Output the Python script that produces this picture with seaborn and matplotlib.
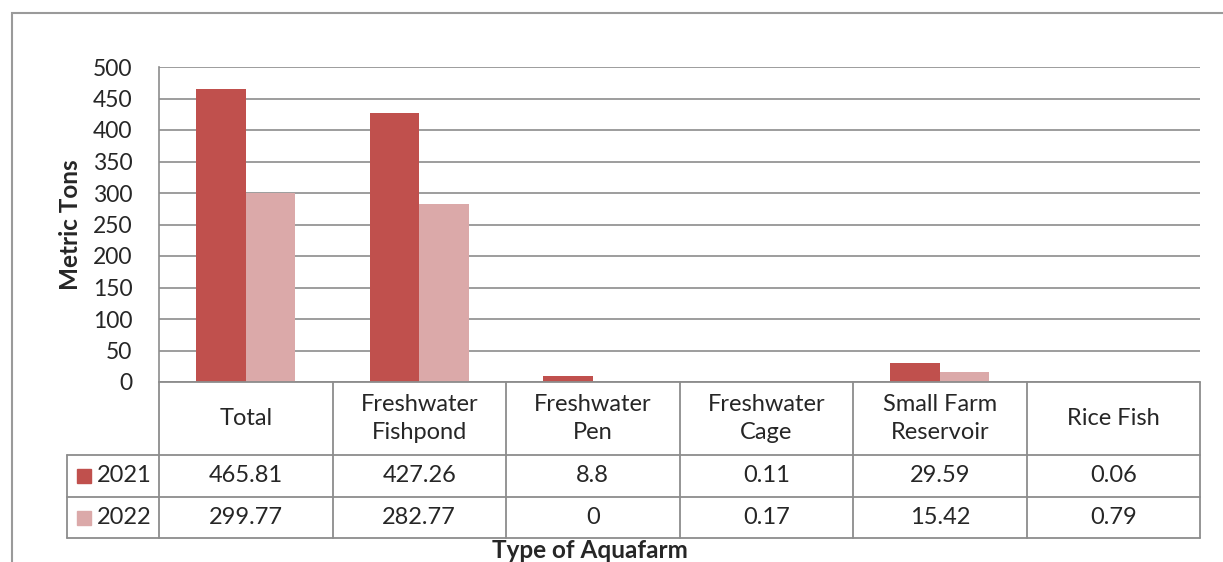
import matplotlib
matplotlib.use('Agg')
import pandas as pd
import seaborn as sns
import matplotlib.pyplot as plt
from matplotlib.lines import Line2D
from matplotlib.patches import Rectangle

# Данные
categories = ['Total', 'Freshwater\nFishpond', 'Freshwater\nPen', 'Freshwater\nCage',
              'Small Farm\nReservoir', 'Rice Fish']
years = ['2021', '2022']
values_2021 = [465.81, 427.26, 8.8, 0.11, 29.59, 0.06]
values_2022 = [299.77, 282.77, 0, 0.17, 15.42, 0.79]
labels_2021 = ['465.81', '427.26', '8.8', '0.11', '29.59', '0.06']
labels_2022 = ['299.77', '282.77', '0', '0.17', '15.42', '0.79']
colors = ['#C0504D', '#DBA9A9']

df = pd.DataFrame({
    'category': categories * 2,
    'year': [years[0]] * 6 + [years[1]] * 6,
    'value': values_2021 + values_2022,
})

sns.set_style('white')
plt.rcParams['font.family'] = ['Lato', 'DejaVu Sans']

W, H = 1223, 562
fig = plt.figure(figsize=(W / 100, H / 100), dpi=100)

def fx(px):
    return px / W

def fy(py):
    return 1 - py / H

left, right, top, bottom = 159, 1200, 67, 382
ax = fig.add_axes([fx(left), fy(bottom), fx(right - left), (bottom - top) / H])

sns.barplot(data=df, x='category', y='value', hue='year', palette=colors,
            width=0.57, saturation=1, linewidth=0, ax=ax, legend=False)

ax.set_ylim(0, 500)
ax.set_xlim(-0.5, len(categories) - 0.5)
ax.set_yticks(range(0, 501, 50))
ax.tick_params(axis='y', labelsize=16.5, length=4, color='#868686', pad=15)
ax.set_xticks([])
ax.set_xlabel('')
ax.set_ylabel('')
ax.grid(axis='y', color='#8c8c8c', linewidth=1.2)
ax.set_axisbelow(True)
for s in ['top', 'right', 'bottom']:
    ax.spines[s].set_visible(False)
ax.spines['left'].set_color('#8c8c8c')
ax.spines['left'].set_linewidth(1.2)

# Внешняя рамка
fig.patches.append(Rectangle((fx(12), fy(600)), fx(1300), (600 - 13) / H,
                             transform=fig.transFigure, fill=False,
                             edgecolor='#9a9a9a', linewidth=1.5))

# Таблица данных
lc = '#8c8c8c'
col_w = (right - left) / len(categories)
y_head, y_r1, y_r2, y_end = 382, 455, 497, 538
lab_left = 67

def hline(x0, x1, y):
    fig.add_artist(Line2D([fx(x0), fx(x1)], [fy(y), fy(y)], color=lc, lw=1.3,
                          transform=fig.transFigure))

def vline(x, y0, y1):
    fig.add_artist(Line2D([fx(x), fx(x)], [fy(y0), fy(y1)], color=lc, lw=1.3,
                          transform=fig.transFigure))

hline(left, right, y_head)
hline(lab_left, right, y_r1)
hline(lab_left, right, y_r2)
hline(lab_left, right, y_end)
vline(lab_left, y_r1, y_end)
for k in range(len(categories) + 1):
    vline(left + k * col_w, y_head, y_end)

fs = 17
for i, cat in enumerate(categories):
    cx = left + (i + 0.5) * col_w
    fig.text(fx(cx), fy((y_head + y_r1) / 2), cat, ha='center', va='center',
             fontsize=fs, linespacing=1.45)
    fig.text(fx(cx), fy((y_r1 + y_r2) / 2), labels_2021[i], ha='center', va='center', fontsize=fs)
    fig.text(fx(cx), fy((y_r2 + y_end) / 2), labels_2022[i], ha='center', va='center', fontsize=fs)

for yr, col, (ya, yb) in zip(years, colors, [(y_r1, y_r2), (y_r2, y_end)]):
    ym = (ya + yb) / 2
    fig.patches.append(Rectangle((fx(77), fy(ym + 7)), fx(14), 14 / H,
                                 transform=fig.transFigure, color=col))
    fig.text(fx(97), fy(ym), yr, ha='left', va='center', fontsize=fs)

fig.text(fx(590), fy(551), 'Type of Aquafarm', ha='center', va='center',
         fontsize=17.5, fontweight='bold')
fig.text(fx(70), fy(225), 'Metric Tons', ha='center', va='center',
         fontsize=17.5, fontweight='bold', rotation=90)

fig.savefig('out.png', dpi=100)
